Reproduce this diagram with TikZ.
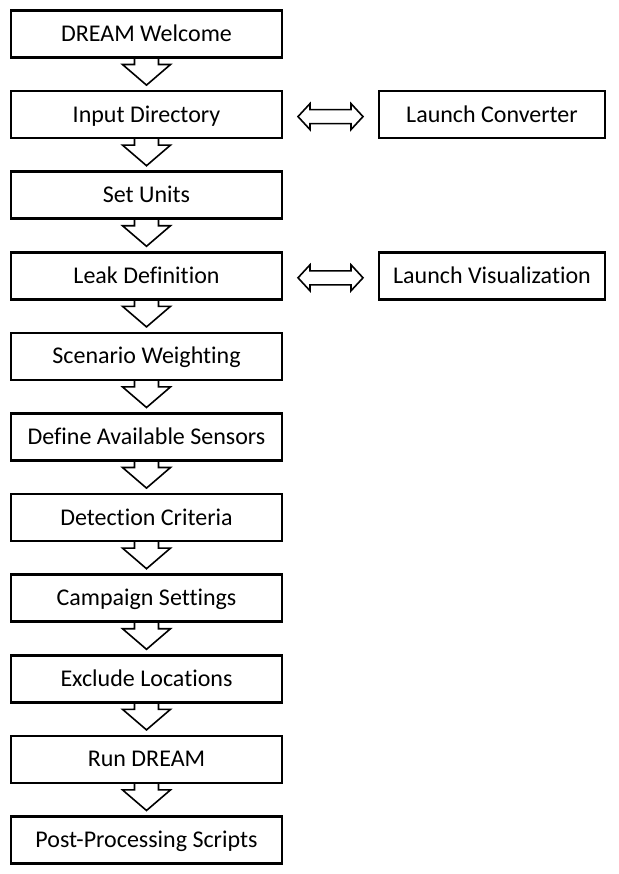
\documentclass[tikz,border=0pt]{standalone}
\usepackage{fontspec}
\setmainfont{Carlito}[Ligatures=NoCommon]
\usetikzlibrary{calc,positioning}
\tikzset{
  stepbox/.style={draw, line width=2pt, minimum width=203.25pt, minimum height=35.25pt,
    inner sep=0pt, outer sep=0pt, text height=13pt, text depth=1.75pt,
    font=\fontsize{18}{21}\selectfont},
  sidebox/.style={stepbox, minimum width=169.5pt},
  blockarrow/.style={line width=1.2pt, line join=miter},
}
\begin{document}
\begin{tikzpicture}[x=0.75pt,y=-0.75pt, node distance=25.2pt]
\useasboundingbox (0,0) rectangle (618,874);
\node[stepbox] (welcome) at (146.5,34) {DREAM Welcome};
\node[stepbox, below=of welcome] (input) {Input Directory};
\node[stepbox, below=of input] (units) {Set Units};
\node[stepbox, below=of units] (leak) {Leak Definition};
\node[stepbox, below=of leak] (weight) {Scenario Weighting};
\node[stepbox, below=of weight] (sensors) {Define Available Sensors};
\node[stepbox, below=of sensors] (detect) {Detection Criteria};
\node[stepbox, below=of detect] (campaign) {Campaign Settings};
\node[stepbox, below=of campaign] (exclude) {Exclude Locations};
\node[stepbox, below=of exclude] (run) {Run DREAM};
\node[stepbox, below=of run] (post) {Post-Processing Scripts};
\node[sidebox, right=72.75pt of input] (converter) {Launch Converter};
\node[sidebox, right=72.75pt of leak] (visual) {Launch Visualization};
% hollow arrows down the column
\foreach \a/\b in {welcome/input,input/units,units/leak,leak/weight,weight/sensors,
    sensors/detect,detect/campaign,campaign/exclude,exclude/run,run/post}
  \draw[blockarrow] ($(\a.south)+(-9pt,0)$) -- ($(\a.south)+(-9pt,-5.25pt)$)
    -- ($(\a.south)+(-18pt,-5.25pt)$) -- ($(\b.north)+(0,4.5pt)$)
    -- ($(\a.south)+(18pt,-5.25pt)$) -- ($(\a.south)+(9pt,-5.25pt)$)
    -- ($(\a.south)+(9pt,0)$);
% two-way arrows to the side tools
\foreach \a/\b in {input/converter,leak/visual}
  \draw[blockarrow] ($(\a.east)+(12pt,-1.5pt)$) -- ($(\a.east)+(21pt,-11.25pt)$)
    -- ($(\a.east)+(21pt,-6.75pt)$) -- ($(\b.west)+(-21pt,-6.75pt)$)
    -- ($(\b.west)+(-21pt,-11.25pt)$) -- ($(\b.west)+(-12pt,-1.5pt)$)
    -- ($(\b.west)+(-21pt,8.25pt)$) -- ($(\b.west)+(-21pt,3.75pt)$)
    -- ($(\a.east)+(21pt,3.75pt)$) -- ($(\a.east)+(21pt,8.25pt)$) -- cycle;
\end{tikzpicture}
\end{document}
